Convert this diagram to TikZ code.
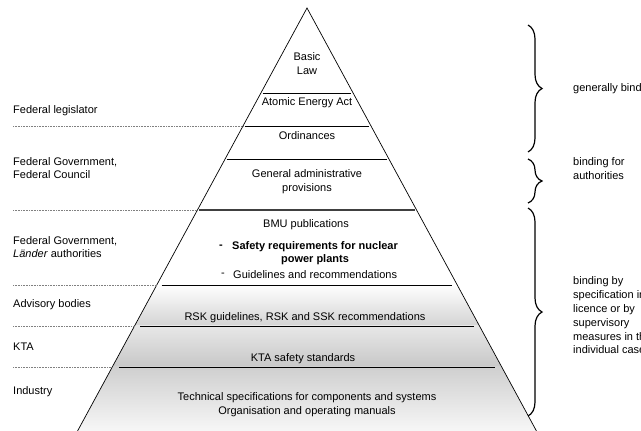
\documentclass[tikz,border=0pt]{standalone}
\usepackage{fontspec}
\setmainfont{Liberation Sans}
\usetikzlibrary{calc,decorations.pathreplacing}
\begin{document}
\begin{tikzpicture}[x=1bp,y=-1bp,
  txt/.style={font=\fontsize{11bp}{13.8bp}\selectfont, inner sep=0pt, align=center},
  lefttxt/.style={txt, anchor=west, align=left},
  levelline/.style={line width=0.8pt},
  sepline/.style={densely dotted, gray, line width=0.6pt},
  bracestyle/.style={decorate, decoration={brace, amplitude=14bp, aspect=0.5}, line width=1.2pt}]
\useasboundingbox (0,0) rectangle (641,430);
\clip (0,0) rectangle (641,430);
% pyramid corners
\coordinate (apex) at (307,8);
\coordinate (bl) at (77,432);
\coordinate (br) at (537,432);
% level lines
\coordinate (l1l) at ($(apex)!0.2014!(bl)$); \coordinate (l1r) at ($(apex)!0.2014!(br)$);
\coordinate (l2l) at ($(apex)!0.2796!(bl)$); \coordinate (l2r) at ($(apex)!0.2796!(br)$);
\coordinate (l3l) at ($(apex)!0.3578!(bl)$); \coordinate (l3r) at ($(apex)!0.3578!(br)$);
\coordinate (l4l) at ($(apex)!0.4763!(bl)$); \coordinate (l4r) at ($(apex)!0.4763!(br)$);
\coordinate (l5l) at ($(apex)!0.6540!(bl)$); \coordinate (l5r) at ($(apex)!0.6540!(br)$);
\coordinate (l6l) at ($(apex)!0.7512!(bl)$); \coordinate (l6r) at ($(apex)!0.7512!(br)$);
\coordinate (l7l) at ($(apex)!0.8483!(bl)$); \coordinate (l7r) at ($(apex)!0.8483!(br)$);
% fill and shading
\fill[white] (apex) -- (bl) -- (br) -- cycle;
\begin{scope}
  \clip (apex) -- (bl) -- (br) -- cycle;
  \shade[top color=white, bottom color=gray!33] (60,284) rectangle (560,325);
  \shade[top color=gray!18, bottom color=gray!43] (60,325) rectangle (560,366);
  \shade[top color=gray!38, bottom color=gray!6] (60,366) rectangle (560,432);
\end{scope}
% pyramid sides
\draw[line width=0.7pt] (bl) -- (apex) -- (br);
% level lines
\draw[levelline] ($(l1l)!2bp!(l1r)$) -- ($(l1r)!2bp!(l1l)$);
\draw[levelline] ($(l2l)!2bp!(l2r)$) -- ($(l2r)!2bp!(l2l)$);
\draw[levelline] ($(l3l)!2bp!(l3r)$) -- ($(l3r)!2bp!(l3l)$);
\draw[line width=1.3pt, black!75] ($(l4l)!2bp!(l4r)$) -- ($(l4r)!2bp!(l4l)$);
\draw[levelline] ($(l5l)!5bp!(l5r)$) -- ($(l5r)!5bp!(l5l)$);
\draw[levelline] ($(l6l)!6bp!(l6r)$) -- ($(l6r)!6bp!(l6l)$);
\draw[levelline] ($(l7l)!7bp!(l7r)$) -- ($(l7r)!7bp!(l7l)$);
% dotted separators on the left
\coordinate (d2) at (13,0 |- l2l);
\coordinate (d4) at (13,0 |- l4l);
\coordinate (d5) at (13,0 |- l5l);
\coordinate (d6) at (13,0 |- l6l);
\coordinate (d7) at (13,0 |- l7l);
\draw[sepline] (d2) -- (l2l);
\draw[sepline] (d4) -- (l4l);
\draw[sepline] (d5) -- (l5l);
\draw[sepline] (d6) -- (l6l);
\draw[sepline] (d7) -- (l7l);
% pyramid texts
\node[txt] (basic) at (307,63.5) {Basic\\Law};
\node[txt] (aea) at (307,103) {Atomic Energy Act};
\node[txt] (ord) at (307,136) {Ordinances};
\node[txt] (gap) at (307,182) {General administrative\\provisions};
\node[txt] (bmu) at (306,225) {BMU publications};
\node[txt, font=\fontsize{11bp}{13.2bp}\selectfont\bfseries] (dash1) at (221,247) {-};
\node[txt, font=\fontsize{11bp}{13.2bp}\selectfont\bfseries] (safety) at (315,253.5) {Safety requirements for nuclear\\power plants};
\node[txt] (dash2) at (223,275) {-};
\node[txt, anchor=west] (guide) at (233,275) {Guidelines and recommendations};
\node[txt] (rsk) at (305,318) {RSK guidelines, RSK and SSK recommendations};
\node[txt] (kta) at (303,359) {KTA safety standards};
\node[txt] (tech) at (307,405) {Technical specifications for components and systems\\Organisation and operating manuals};
% left labels
\node[lefttxt] (fl) at (13,111) {Federal legislator};
\node[lefttxt] (fgfc) at (13,168) {Federal Government,\\Federal Council};
\node[lefttxt] (fgla) at (13,247) {Federal Government,\\\emph{Länder} authorities};
\node[lefttxt] (adv) at (13,305) {Advisory bodies};
\node[lefttxt] (ktal) at (13,347) {KTA};
\node[lefttxt] (ind) at (13,392) {Industry};
% braces
\coordinate (b1t) at (528,25); \coordinate (b1b) at (528,152);
\coordinate (b2t) at (528,159); \coordinate (b2b) at (528,203);
\coordinate (b3t) at (528,208); \coordinate (b3b) at (528,416);
\draw[bracestyle] (b1t) -- (b1b);
\draw[bracestyle] (b2t) -- (b2b);
\draw[bracestyle] (b3t) -- (b3b);
% right labels
\node[lefttxt] (gb) at (573,89) {generally binding};
\node[lefttxt] (bfa) at (573,168.5) {binding for\\authorities};
\node[lefttxt] (bbs) at (573,315.5) {binding by\\specification in\\licence or by\\supervisory\\measures in the\\individual case};
\end{tikzpicture}
\end{document}
